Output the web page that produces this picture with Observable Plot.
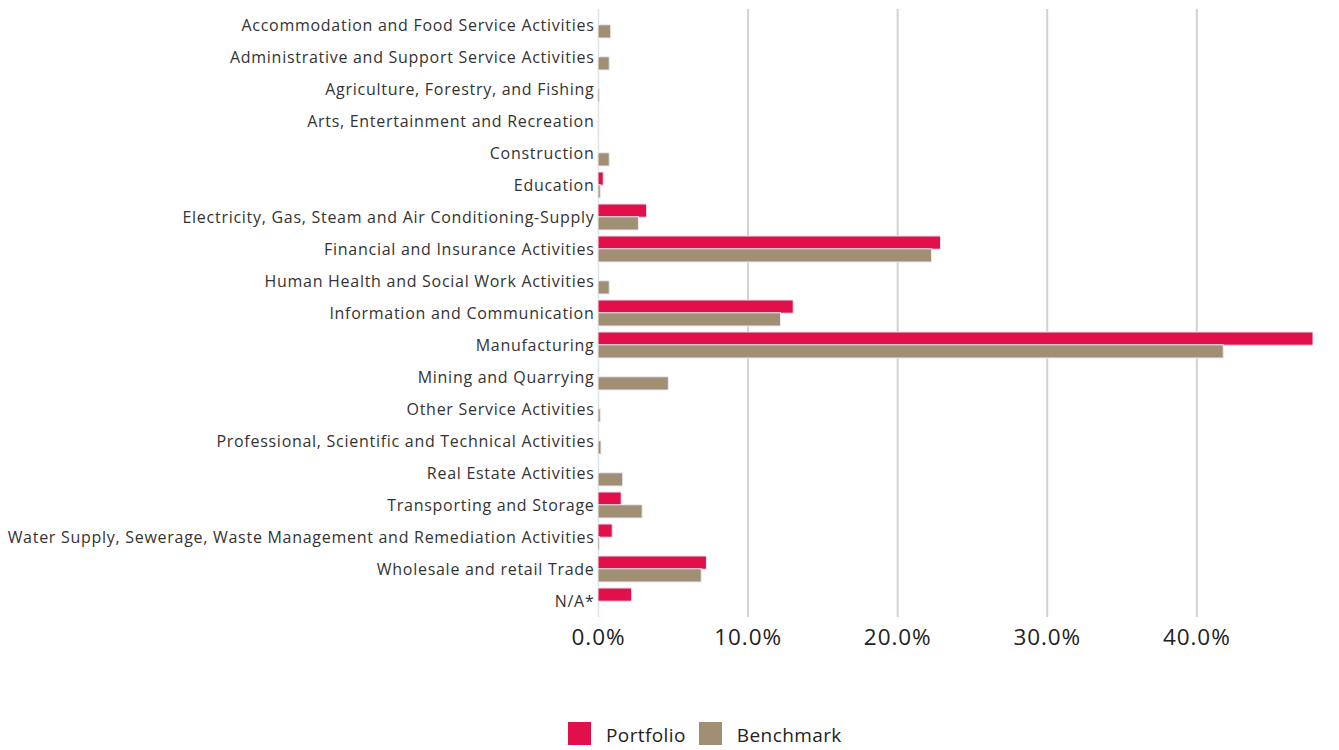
<!DOCTYPE html>
<html>
<head>
<meta charset="utf-8">
<script src="https://cdn.jsdelivr.net/npm/d3@7"></script>
<script src="https://cdn.jsdelivr.net/npm/@observablehq/plot@0.6"></script>
<style>
  body { margin: 0; background: #fff; font-family: "Open Sans", sans-serif; }
  #chart { position: relative; width: 1339px; height: 750px; overflow: hidden; }
  .legend { position: absolute; left: 568px; top: 722px; display: flex; align-items: center; font-size: 19px; line-height: 23px; color: #222; letter-spacing: 0.4px; }
  .legend .sw { width: 23px; height: 23px; display: inline-block; margin-right: 15px; }
  .legend .item { display: flex; align-items: center; margin-right: 13px; }
  .legend .item span:last-child { position: relative; top: 2px; }
  .yax text { letter-spacing: 0.72px; }
  .xax text { letter-spacing: 0.9px; }
</style>
</head>
<body>
<div id="chart"></div>
<script>
const categories = [
  "Accommodation and Food Service Activities",
  "Administrative and Support Service Activities",
  "Agriculture, Forestry, and Fishing",
  "Arts, Entertainment and Recreation",
  "Construction",
  "Education",
  "Electricity, Gas, Steam and Air Conditioning-Supply",
  "Financial and Insurance Activities",
  "Human Health and Social Work Activities",
  "Information and Communication",
  "Manufacturing",
  "Mining and Quarrying",
  "Other Service Activities",
  "Professional, Scientific and Technical Activities",
  "Real Estate Activities",
  "Transporting and Storage",
  "Water Supply, Sewerage, Waste Management and Remediation Activities",
  "Wholesale and retail Trade",
  "N/A*"
];
const portfolio = [0, 0, 0, 0, 0, 0.35, 3.25, 22.9, 0, 13.05, 47.8, 0, 0, 0, 0, 1.55, 0.95, 7.25, 2.25];
const benchmark = [0.85, 0.75, 0.1, 0.02, 0.75, 0.15, 2.7, 22.3, 0.75, 12.2, 41.8, 4.7, 0.15, 0.2, 1.65, 2.95, 0.1, 6.9, 0];
const xTicks = [0, 10, 20, 30, 40];
const seriesNames = ["Portfolio", "Benchmark"];
const seriesColors = ["#E2104A", "#A08F73"];

const rows = categories.map((c, i) => ({category: c, portfolio: portfolio[i], benchmark: benchmark[i]}));

const chart = Plot.plot({
  width: 1339,
  height: 700,
  marginLeft: 598,
  marginRight: 26,
  marginTop: 9,
  marginBottom: 83,
  style: {fontFamily: "Open Sans, sans-serif", background: "transparent"},
  x: {domain: [0, d3.max(portfolio.concat(benchmark))], label: null},
  y: {domain: categories, paddingInner: 0.2, paddingOuter: 0.1, label: null},
  marks: [
    Plot.gridX(xTicks.filter(d => d > 0), {stroke: "#d2d2d2", strokeOpacity: 1, strokeWidth: 2}),
    Plot.ruleX([0], {stroke: "#dfe2f1", strokeWidth: 1.5}),
    Plot.barX(rows, {x: "portfolio", y: "category", fill: seriesColors[0], insetBottom: 12.8, insetTop: 0, stroke: "#ece8f5", strokeWidth: 1}),
    Plot.barX(rows, {x: "benchmark", y: "category", fill: seriesColors[1], insetTop: 12.8, insetBottom: 0, stroke: "#ece8f5", strokeWidth: 1}),
    Plot.axisX({ticks: xTicks, tickFormat: d => d.toFixed(1) + "%", tickSize: 0, tickPadding: 12, fontSize: 22.5, fill: "#222", label: null, className: "xax"}),
    Plot.axisY({tickSize: 0, tickPadding: 4, fontSize: 16, fill: "#333", label: null, className: "yax"})
  ]
});
document.getElementById("chart").appendChild(chart);

const legend = document.createElement("div");
legend.className = "legend";
seriesNames.forEach((n, i) => {
  const it = document.createElement("span");
  it.className = "item";
  it.innerHTML = `<span class="sw" style="background:${seriesColors[i]}"></span><span>${n}</span>`;
  legend.appendChild(it);
});
document.getElementById("chart").appendChild(legend);
</script>
</body>
</html>
